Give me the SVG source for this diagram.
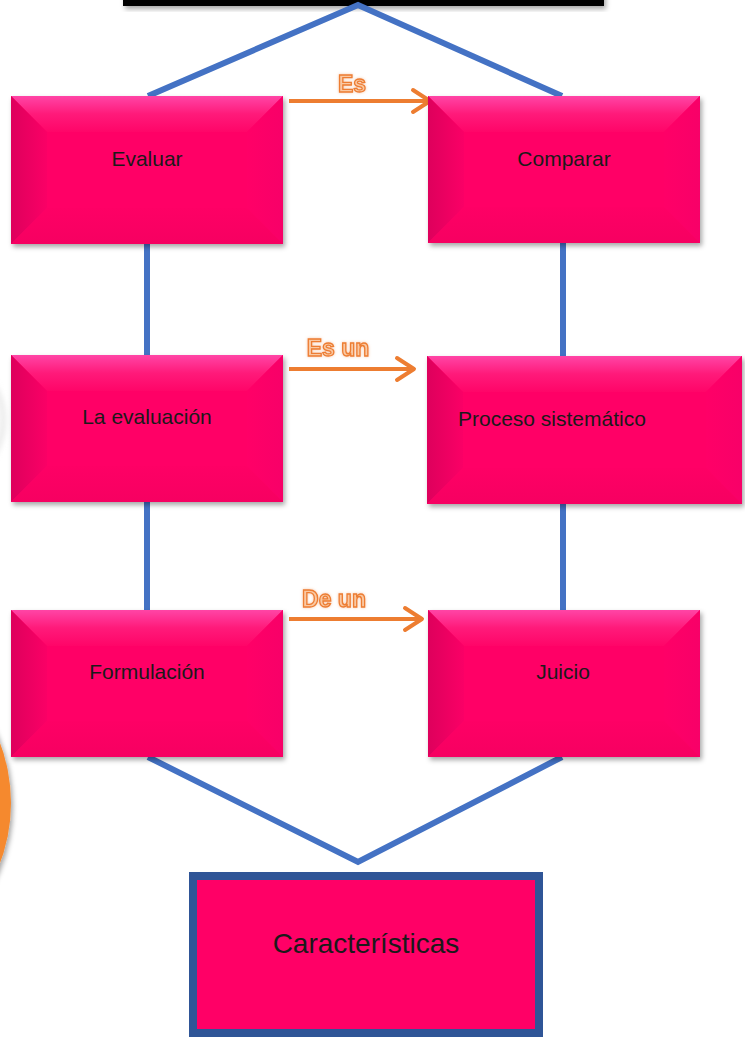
<svg xmlns="http://www.w3.org/2000/svg" width="745" height="1038" viewBox="0 0 745 1038">
<style>
.base{fill:#FF0066}
.top{fill:url(#gTop)}
.left{fill:url(#gLeft)}
.right{fill:url(#gRight)}
.bottom{fill:url(#gBottom)}
.lbl{font-family:"Liberation Sans",Arial,sans-serif;font-size:21px;fill:#1a1a1a}
.blue{stroke:#4472C4;stroke-width:6;fill:none}
.arr{stroke:#ED7D31;stroke-width:4;fill:none;stroke-linecap:butt}
.head{stroke:#ED7D31;stroke-width:4;fill:none;stroke-linecap:round;stroke-linejoin:round}
.wa{font-family:"Liberation Sans",Arial,sans-serif;font-weight:bold;font-size:23px;fill:#FAC8A2;stroke:#ED7D31;stroke-width:1.3;filter:url(#glow)}
</style>
<defs>
<linearGradient id="gTop" x1="0" y1="0" x2="0" y2="1">
<stop offset="0" stop-color="#FF45A6"/><stop offset="0.5" stop-color="#FF1A7A"/><stop offset="1" stop-color="#FF0568"/>
</linearGradient>
<linearGradient id="gLeft" x1="0" y1="0" x2="1" y2="0">
<stop offset="0" stop-color="#DE005C"/><stop offset="1" stop-color="#FA0066"/>
</linearGradient>
<linearGradient id="gRight" x1="0" y1="0" x2="1" y2="0">
<stop offset="0" stop-color="#FF0067"/><stop offset="1" stop-color="#F80068"/>
</linearGradient>
<linearGradient id="gBottom" x1="0" y1="0" x2="0" y2="1">
<stop offset="0" stop-color="#FE0065"/><stop offset="1" stop-color="#F60061"/>
</linearGradient>
<filter id="sh" x="-10%" y="-10%" width="125%" height="130%">
<feDropShadow dx="2" dy="3" stdDeviation="2.5" flood-color="#000" flood-opacity="0.35"/>
</filter>
<filter id="glow" x="-20%" y="-30%" width="140%" height="160%">
<feGaussianBlur in="SourceAlpha" stdDeviation="1.5" result="b"/>
<feFlood flood-color="#F4B183" flood-opacity="0.7"/>
<feComposite in2="b" operator="in" result="g"/>
<feMerge><feMergeNode in="g"/><feMergeNode in="SourceGraphic"/></feMerge>
</filter>
<filter id="blur"><feGaussianBlur stdDeviation="3"/></filter>
</defs>

<g id="decor">
<rect x="123" y="-20" width="481" height="26" fill="#000" filter="url(#sh)"/>
<circle cx="-60" cy="420" r="63" fill="#fff" stroke="#d4d4d4" stroke-width="3" filter="url(#blur)"/>
<circle cx="-160" cy="803" r="171" fill="#F5892F" filter="url(#sh)"/>
</g>

<g id="connectors">
<polyline class="blue" points="148,96 358,5 562,96"/>
<line class="blue" x1="147" y1="244" x2="147" y2="355"/>
<line class="blue" x1="147" y1="502" x2="147" y2="610"/>
<line class="blue" x1="563" y1="243" x2="563" y2="356"/>
<line class="blue" x1="563" y1="504" x2="563" y2="610"/>
<polyline class="blue" points="148,757 358,862 562,757"/>
<line class="arr" x1="289" y1="101" x2="430" y2="101"/>
<polyline class="head" points="413,90 430,101 413,112"/>
<line class="arr" x1="289" y1="369" x2="414" y2="369"/>
<polyline class="head" points="397,358 414,369 397,380"/>
<line class="arr" x1="289" y1="619" x2="422" y2="619"/>
<polyline class="head" points="405,608 422,619 405,630"/>
<text class="wa" x="352" y="92" text-anchor="middle">Es</text>
<text class="wa" x="338" y="356" text-anchor="middle">Es un</text>
<text class="wa" x="334" y="607" text-anchor="middle">De un</text>
</g>

<g id="evaluar">
<g filter="url(#sh)"><rect class="base" x="11" y="96" width="272" height="148"/></g>
<polygon class="top" points="11,96 283,96 247,132 47,132"/>
<polygon class="left" points="11,96 47,132 47,208 11,244"/>
<polygon class="right" points="283,96 283,244 247,208 247,132"/>
<polygon class="bottom" points="11,244 47,208 247,208 283,244"/>
<text class="lbl" x="147" y="166" text-anchor="middle">Evaluar</text>
</g>

<g id="comparar">
<g filter="url(#sh)"><rect class="base" x="428" y="96" width="272" height="147"/></g>
<polygon class="top" points="428,96 700,96 664,132 464,132"/>
<polygon class="left" points="428,96 464,132 464,207 428,243"/>
<polygon class="right" points="700,96 700,243 664,207 664,132"/>
<polygon class="bottom" points="428,243 464,207 664,207 700,243"/>
<text class="lbl" x="564" y="166" text-anchor="middle">Comparar</text>
</g>

<g id="la-evaluacion">
<g filter="url(#sh)"><rect class="base" x="11" y="355" width="272" height="147"/></g>
<polygon class="top" points="11,355 283,355 247,391 47,391"/>
<polygon class="left" points="11,355 47,391 47,466 11,502"/>
<polygon class="right" points="283,355 283,502 247,466 247,391"/>
<polygon class="bottom" points="11,502 47,466 247,466 283,502"/>
<text class="lbl" x="147" y="424" text-anchor="middle">La evaluación</text>
</g>

<g id="proceso">
<g filter="url(#sh)"><rect class="base" x="427" y="356" width="315" height="148"/></g>
<polygon class="top" points="427,356 742,356 706,392 463,392"/>
<polygon class="left" points="427,356 463,392 463,468 427,504"/>
<polygon class="right" points="742,356 742,504 706,468 706,392"/>
<polygon class="bottom" points="427,504 463,468 706,468 742,504"/>
<text class="lbl" x="458" y="426">Proceso sistemático</text>
</g>

<g id="formulacion">
<g filter="url(#sh)"><rect class="base" x="11" y="610" width="272" height="147"/></g>
<polygon class="top" points="11,610 283,610 247,646 47,646"/>
<polygon class="left" points="11,610 47,646 47,721 11,757"/>
<polygon class="right" points="283,610 283,757 247,721 247,646"/>
<polygon class="bottom" points="11,757 47,721 247,721 283,757"/>
<text class="lbl" x="147" y="679" text-anchor="middle">Formulación</text>
</g>

<g id="juicio">
<g filter="url(#sh)"><rect class="base" x="428" y="610" width="272" height="147"/></g>
<polygon class="top" points="428,610 700,610 664,646 464,646"/>
<polygon class="left" points="428,610 464,646 464,721 428,757"/>
<polygon class="right" points="700,610 700,757 664,721 664,646"/>
<polygon class="bottom" points="428,757 464,721 664,721 700,757"/>
<text class="lbl" x="563" y="679" text-anchor="middle">Juicio</text>
</g>

<g id="caracteristicas">
<rect x="193" y="876" width="346" height="157" fill="#FF0066" stroke="#2F5597" stroke-width="8"/>
<text x="366" y="953" text-anchor="middle" font-family="Liberation Sans, Arial, sans-serif" font-size="28" fill="#1a1a1a">Características</text>
</g>
</svg>
